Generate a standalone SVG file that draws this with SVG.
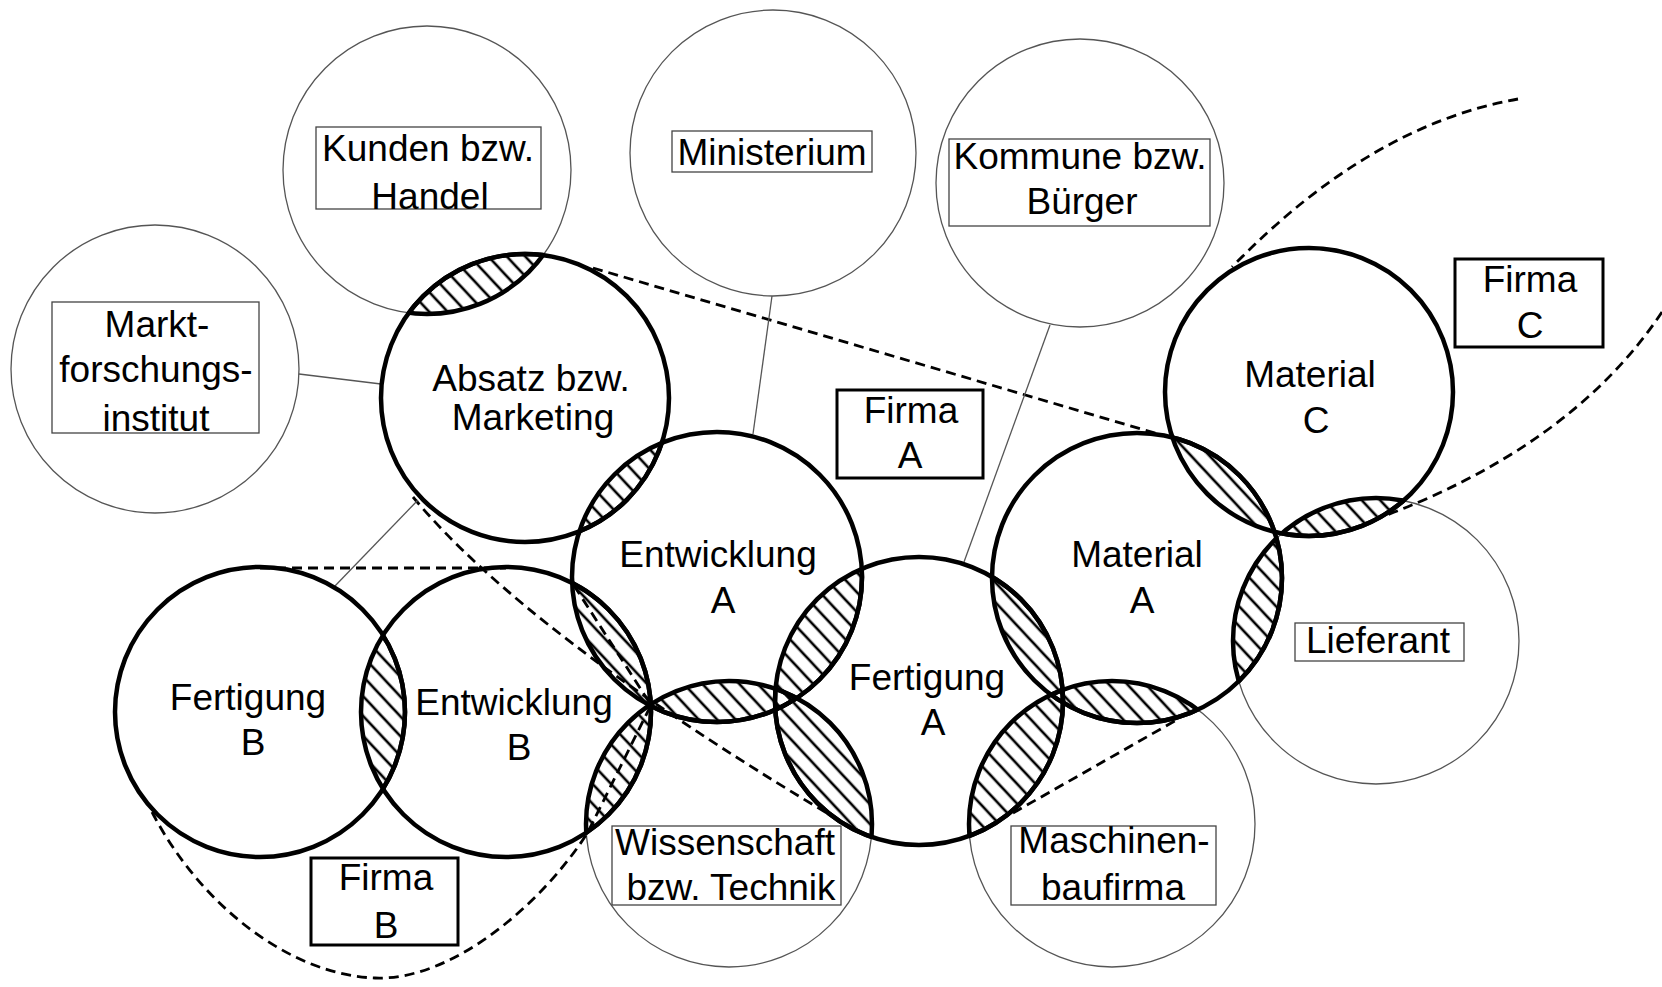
<svg xmlns="http://www.w3.org/2000/svg" xmlns:xlink="http://www.w3.org/1999/xlink" width="1662" height="987" viewBox="0 0 1662 987">
  <style>
    .thin { fill: none; stroke: #555; stroke-width: 1.3; }
    .thick { fill: none; stroke: #000; stroke-width: 4.5; }
    .lens { fill: url(#hatch); stroke: #000; stroke-width: 4.5; }
    .rim { fill: none; stroke: #000; stroke-width: 4.5; }
    .box { fill: #fff; stroke: #444; stroke-width: 1.3; }
    .firma { fill: #fff; stroke: #000; stroke-width: 3; }
    .link { stroke: #555; stroke-width: 1.3; fill: none; }
    .border { fill: none; stroke: #000; stroke-width: 2.8; stroke-dasharray: 10 6; }
    text { font-family: "Liberation Sans", Arial, sans-serif; font-size: 37px; text-anchor: middle; fill: #000; }
  </style>
  <defs>
    <pattern id="hatch" patternUnits="userSpaceOnUse" width="13.5" height="13.5" patternTransform="rotate(47)">
      <line x1="0" y1="6.75" x2="13.5" y2="6.75" stroke="#000" stroke-width="2.6"/>
    </pattern>
    <!-- circle geometry shared by outlines, clips and overlaps -->
    <circle id="g-markt" cx="155" cy="369" r="144"/>
    <circle id="g-kunden" cx="427" cy="170" r="144"/>
    <circle id="g-ministerium" cx="773" cy="153" r="143"/>
    <circle id="g-kommune" cx="1080" cy="183" r="144"/>
    <circle id="g-absatz" cx="525" cy="398" r="144"/>
    <circle id="g-entwA" cx="717" cy="577" r="145"/>
    <circle id="g-fertA" cx="919" cy="701" r="144"/>
    <circle id="g-matA" cx="1137" cy="578" r="145"/>
    <circle id="g-matC" cx="1309" cy="392" r="144"/>
    <circle id="g-lieferant" cx="1376" cy="641" r="143"/>
    <circle id="g-maschinen" cx="1112" cy="824" r="143"/>
    <circle id="g-wiss" cx="729" cy="824" r="143"/>
    <circle id="g-fertB" cx="260" cy="712" r="145"/>
    <circle id="g-entwB" cx="506" cy="712" r="145"/>
    <clipPath id="c-kunden"><use xlink:href="#g-kunden"/></clipPath>
    <clipPath id="c-absatz"><use xlink:href="#g-absatz"/></clipPath>
    <clipPath id="c-entwA"><use xlink:href="#g-entwA"/></clipPath>
    <clipPath id="c-fertA"><use xlink:href="#g-fertA"/></clipPath>
    <clipPath id="c-matA"><use xlink:href="#g-matA"/></clipPath>
    <clipPath id="c-matC"><use xlink:href="#g-matC"/></clipPath>
    <clipPath id="c-lieferant"><use xlink:href="#g-lieferant"/></clipPath>
    <clipPath id="c-maschinen"><use xlink:href="#g-maschinen"/></clipPath>
    <clipPath id="c-wiss"><use xlink:href="#g-wiss"/></clipPath>
    <clipPath id="c-fertB"><use xlink:href="#g-fertB"/></clipPath>
    <clipPath id="c-entwB"><use xlink:href="#g-entwB"/></clipPath>
  </defs>

  <rect width="1662" height="987" fill="#fff"/>

  <!-- partner circles (thin) -->
  <g id="partner-outlines">
    <use xlink:href="#g-markt" class="thin"/>
    <use xlink:href="#g-kunden" class="thin"/>
    <use xlink:href="#g-ministerium" class="thin"/>
    <use xlink:href="#g-kommune" class="thin"/>
    <use xlink:href="#g-lieferant" class="thin"/>
    <use xlink:href="#g-maschinen" class="thin"/>
    <use xlink:href="#g-wiss" class="thin"/>
  </g>

  <!-- hatched overlaps: circle A hatched inside B, plus the rim of B inside A -->
  <g id="overlaps">
    <g clip-path="url(#c-kunden)"><use xlink:href="#g-absatz" class="lens"/></g>
    <g clip-path="url(#c-absatz)"><use xlink:href="#g-kunden" class="rim"/></g>

    <g clip-path="url(#c-entwA)"><use xlink:href="#g-absatz" class="lens"/></g>

    <g clip-path="url(#c-entwB)"><use xlink:href="#g-fertB" class="lens"/></g>

    <g clip-path="url(#c-entwA)"><use xlink:href="#g-entwB" class="lens"/></g>

    <g clip-path="url(#c-wiss)"><use xlink:href="#g-entwB" class="lens"/></g>
    <g clip-path="url(#c-entwB)"><use xlink:href="#g-wiss" class="rim"/></g>

    <g clip-path="url(#c-wiss)"><use xlink:href="#g-entwA" class="lens"/></g>
    <g clip-path="url(#c-entwA)"><use xlink:href="#g-wiss" class="rim"/></g>

    <g clip-path="url(#c-fertA)"><use xlink:href="#g-entwA" class="lens"/></g>

    <g clip-path="url(#c-wiss)"><use xlink:href="#g-fertA" class="lens"/></g>
    <g clip-path="url(#c-fertA)"><use xlink:href="#g-wiss" class="rim"/></g>

    <g clip-path="url(#c-matA)"><use xlink:href="#g-fertA" class="lens"/></g>

    <g clip-path="url(#c-maschinen)"><use xlink:href="#g-fertA" class="lens"/></g>
    <g clip-path="url(#c-fertA)"><use xlink:href="#g-maschinen" class="rim"/></g>

    <g clip-path="url(#c-maschinen)"><use xlink:href="#g-matA" class="lens"/></g>
    <g clip-path="url(#c-matA)"><use xlink:href="#g-maschinen" class="rim"/></g>

    <g clip-path="url(#c-lieferant)"><use xlink:href="#g-matA" class="lens"/></g>
    <g clip-path="url(#c-matA)"><use xlink:href="#g-lieferant" class="rim"/></g>

    <g clip-path="url(#c-matC)"><use xlink:href="#g-matA" class="lens"/></g>

    <g clip-path="url(#c-lieferant)"><use xlink:href="#g-matC" class="lens"/></g>
    <g clip-path="url(#c-matC)"><use xlink:href="#g-lieferant" class="rim"/></g>
  </g>

  <!-- company borders -->
  <g id="company-borders">
    <path class="border" d="M593,268 L1165,436"/>
    <path class="border" d="M413,497 Q526,633 830,815"/>
    <path class="border" d="M1013,813 L1180,718"/>
    <path class="border" d="M260,568 L506,568"/>
    <path class="border" d="M152,812 C200,905 290,975 375,978 C455,981 545,900 588,832 L651,705 L573,584"/>
    <path class="border" d="M1518,99 Q1370,125 1232,267"/>
    <path class="border" d="M1662,312 Q1570,450 1368,522"/>
  </g>

  <!-- connectors between partners and departments -->
  <g id="connectors">
    <line class="link" x1="299" y1="374" x2="381" y2="384"/>
    <line class="link" x1="772" y1="296" x2="753" y2="434"/>
    <line class="link" x1="1050" y1="325" x2="964" y2="562"/>
    <line class="link" x1="418" y1="500" x2="334" y2="587"/>
  </g>

  <!-- partner nodes -->
  <g id="node-markt">
    <rect class="box" x="52" y="302" width="207" height="131"/>
    <text x="157" y="337">Markt-</text>
    <text x="156" y="382">forschungs-</text>
    <text x="156" y="431">institut</text>
  </g>
  <g id="node-kunden">
    <rect class="box" x="316" y="127" width="225" height="82"/>
    <text x="428" y="161">Kunden bzw.</text>
    <text x="430" y="209">Handel</text>
  </g>
  <g id="node-ministerium">
    <rect class="box" x="672" y="131" width="200" height="41"/>
    <text x="772" y="165">Ministerium</text>
  </g>
  <g id="node-kommune">
    <rect class="box" x="949" y="139" width="261" height="87"/>
    <text x="1080" y="169">Kommune bzw.</text>
    <text x="1082" y="214">Bürger</text>
  </g>
  <g id="node-lieferant">
    <rect class="box" x="1295" y="623" width="169" height="38"/>
    <text x="1378" y="653">Lieferant</text>
  </g>
  <g id="node-maschinenbaufirma">
    <rect class="box" x="1011" y="826" width="205" height="79"/>
    <text x="1114" y="853">Maschinen-</text>
    <text x="1113" y="900">baufirma</text>
  </g>
  <g id="node-wissenschaft">
    <rect class="box" x="612" y="826" width="229" height="79"/>
    <text x="725" y="855">Wissenschaft</text>
    <text x="731" y="900">bzw. Technik</text>
  </g>

  <!-- department nodes (thick) -->
  <g id="node-absatz">
    <use xlink:href="#g-absatz" class="thick"/>
    <text x="531" y="391">Absatz bzw.</text>
    <text x="533" y="430">Marketing</text>
  </g>
  <g id="node-entwicklung-a">
    <use xlink:href="#g-entwA" class="thick"/>
    <text x="718" y="567">Entwicklung</text>
    <text x="723" y="613">A</text>
  </g>
  <g id="node-fertigung-a">
    <use xlink:href="#g-fertA" class="thick"/>
    <text x="927" y="690">Fertigung</text>
    <text x="933" y="735">A</text>
  </g>
  <g id="node-material-a">
    <use xlink:href="#g-matA" class="thick"/>
    <text x="1137" y="567">Material</text>
    <text x="1142" y="613">A</text>
  </g>
  <g id="node-material-c">
    <use xlink:href="#g-matC" class="thick"/>
    <text x="1310" y="387">Material</text>
    <text x="1316" y="433">C</text>
  </g>
  <g id="node-fertigung-b">
    <use xlink:href="#g-fertB" class="thick"/>
    <text x="248" y="710">Fertigung</text>
    <text x="253" y="755">B</text>
  </g>
  <g id="node-entwicklung-b">
    <use xlink:href="#g-entwB" class="thick"/>
    <text x="514" y="715">Entwicklung</text>
    <text x="519" y="760">B</text>
  </g>

  <!-- company labels -->
  <g id="label-firma-a">
    <rect class="firma" x="837" y="390" width="146" height="88"/>
    <text x="911" y="423">Firma</text>
    <text x="910" y="468">A</text>
  </g>
  <g id="label-firma-b">
    <rect class="firma" x="311" y="858" width="147" height="87"/>
    <text x="386" y="890">Firma</text>
    <text x="386" y="938">B</text>
  </g>
  <g id="label-firma-c">
    <rect class="firma" x="1455" y="259" width="148" height="88"/>
    <text x="1530" y="292">Firma</text>
    <text x="1530" y="338">C</text>
  </g>
</svg>
